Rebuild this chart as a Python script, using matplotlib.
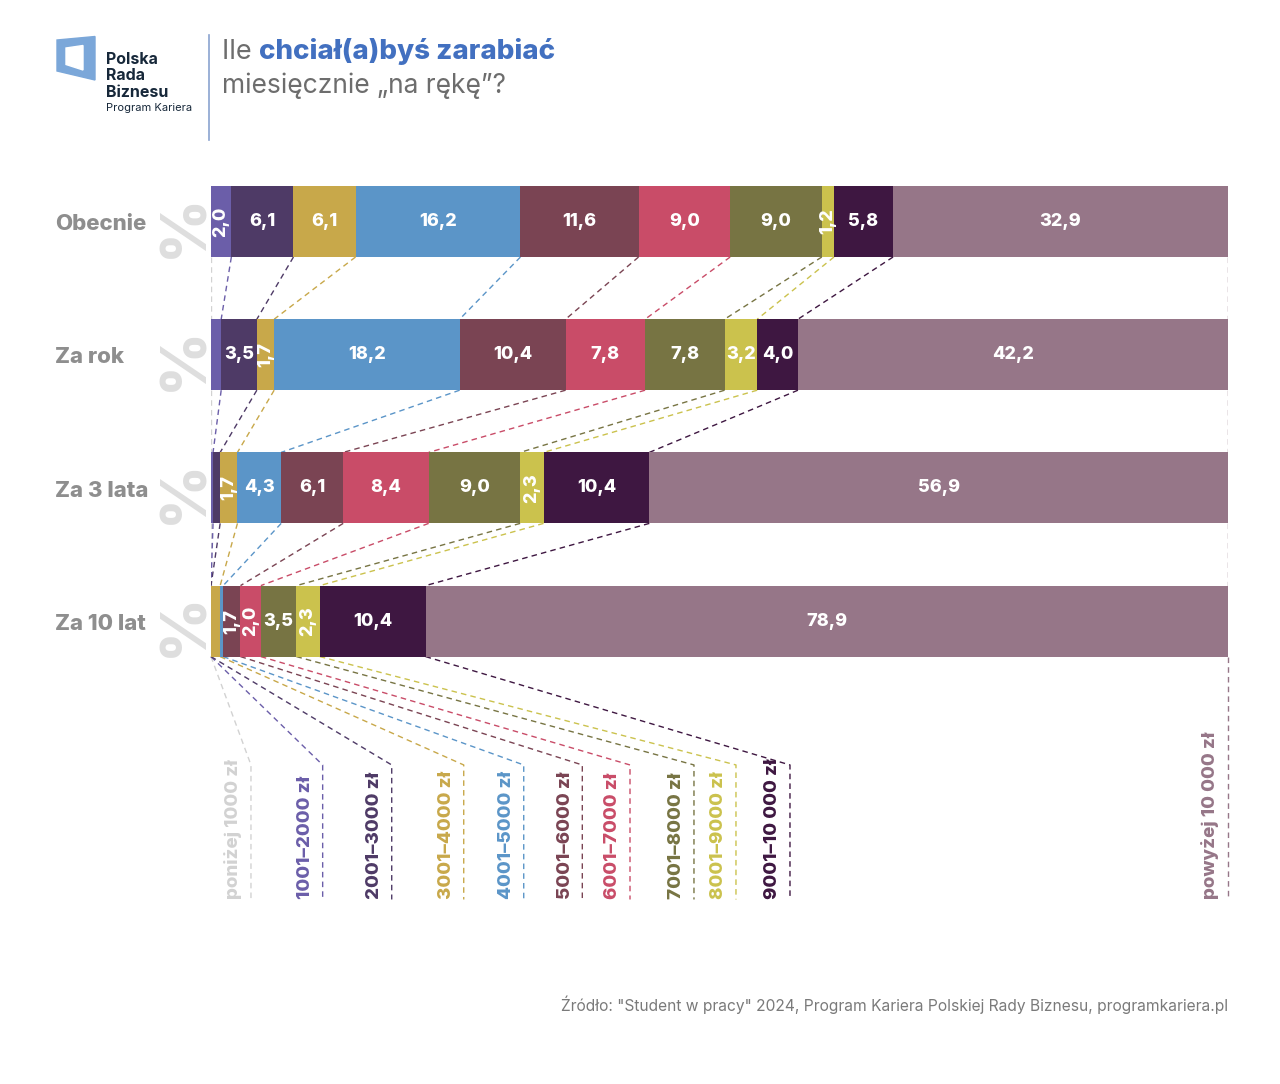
import matplotlib
matplotlib.use('Agg')
import matplotlib.pyplot as plt
from matplotlib.patches import Polygon
import numpy as np

plt.rcParams['font.family'] = ['Inter', 'DejaVu Sans']

# data (percent of answers)
periods = ['Obecnie', 'Za rok', 'Za 3 lata', 'Za 10 lat']
brackets = ['poniżej 1000 zł', '1001–2000 zł', '2001–3000 zł', '3001–4000 zł',
            '4001–5000 zł', '5001–6000 zł', '6001–7000 zł', '7001–8000 zł',
            '8001–9000 zł', '9001–10 000 zł', 'powyżej 10 000 zł']
now = [0, 2.0, 6.1, 6.1, 16.2, 11.6, 9.0, 9.0, 1.2, 5.8, 32.9]
in_1y = [0, 1.0, 3.5, 1.7, 18.2, 10.4, 7.8, 7.8, 3.2, 4.0, 42.2]
in_3y = [0, 0.2, 0.7, 1.7, 4.3, 6.1, 8.4, 9.0, 2.3, 10.4, 56.9]
in_10y = [0, 0, 0, 0.9, 0.3, 1.7, 2.0, 3.5, 2.3, 10.4, 78.9]
rows = [now, in_1y, in_3y, in_10y]

colors = ['#d2d2d2', '#6b5ea9', '#4e3a66', '#c8a84a', '#5b95c8', '#7a4453',
          '#c94c68', '#777443', '#cbc24d', '#3e1741', '#967688']

# where the bracket labels sit at the bottom (x in % of bar width)
label_x = [3.93, 10.98, 17.77, 24.85, 30.75, 36.51, 41.2, 47.49, 51.62, 56.93, 100]

W, H = 1280, 1084
fig = plt.figure(figsize=(W / 100, H / 100), dpi=100)


def fx(x):
    return x / W


def fy(y):
    return 1 - y / H


ax = fig.add_axes([fx(211), fy(920), (1228 - 211) / W, (920 - 150) / H])
ax.set_xlim(0, 100)
ax.set_ylim(5.244, -0.5368)
ax.axis('off')

bh = 0.533
dash = (0, (4, 3))

starts, ends = [], []
for r, vals in enumerate(rows):
    v = np.array(vals, dtype=float)
    share = v / v.sum() * 100
    left = np.concatenate([[0], np.cumsum(share)[:-1]])
    starts.append(left)
    ends.append(left + share)
    ax.barh(r, share, left=left, height=bh, color=colors, zorder=2)
    for k in range(len(v)):
        if v[k] < 1.1:
            continue
        txt = f'{v[k]:.1f}'.replace('.', ',')
        rot = 90 if v[k] < 2.5 else 0
        ax.text(left[k] + share[k] / 2, r, txt, color='white', fontsize=13,
                fontweight='heavy', ha='center', va='center', rotation=rot, zorder=4)
    ax.text(-15.34, r + 0.02, periods[r], color='#8e8e8e', fontsize=16, fontweight='heavy',
            ha='left', va='center', clip_on=False)
    ax.text(-2.51, r + 0.03, '%', color='#dedede', fontsize=45, fontweight='heavy',
            rotation=90, ha='center', va='center', clip_on=False)

# dashed connectors between the bars
for r in range(len(rows) - 1):
    for k in range(len(brackets)):
        ax.plot([ends[r][k], ends[r + 1][k]], [r + bh / 2, r + 1 - bh / 2],
                color=colors[k], lw=1, ls=dash, zorder=1)

# fan out to the bracket labels
y0 = len(rows) - 1 + bh / 2
y_knee, y_end = 4.08, 5.09
for k in range(len(brackets)):
    ax.plot([ends[-1][k], label_x[k], label_x[k]], [y0, y_knee, y_end],
            color=colors[k], lw=1, ls=dash, zorder=1, clip_on=False)
    ax.text(label_x[k] - 0.85, 5.086, brackets[k], color=colors[k], fontsize=13.5,
            fontweight='heavy', rotation=90, ha='right', va='bottom')

# logo
outer = Polygon([(fx(57), fy(40)), (fx(95), fy(36.5)), (fx(95), fy(80)), (fx(57), fy(71))],
                closed=True, color='#7ba7d9', transform=fig.transFigure)
inner = Polygon([(fx(66), fy(48)), (fx(83), fy(45.5)), (fx(83), fy(70)), (fx(66), fy(64.5))],
                closed=True, color='white', transform=fig.transFigure)
fig.add_artist(outer)
fig.add_artist(inner)
for i, word in enumerate(['Polska', 'Rada', 'Biznesu']):
    fig.text(fx(106), fy(64 + 16.5 * i), word, color='#17283a', fontsize=11.5,
             fontweight='bold', va='baseline')
fig.text(fx(106), fy(111), 'Program Kariera', color='#17283a', fontsize=8, va='baseline')
fig.add_artist(plt.Line2D([fx(209), fx(209)], [fy(35), fy(140)], color='#8aa3cf', lw=1.2,
                          transform=fig.transFigure))

# title
t1 = fig.text(fx(222), fy(59), 'Ile ', color='#6d6d6d', fontsize=19.5, va='baseline')
fig.canvas.draw()
bb = t1.get_window_extent()
fig.text(bb.x1 / W, fy(59), 'chciał(a)byś zarabiać', color='#4270c0', fontsize=20,
         fontweight='heavy', va='baseline')
fig.text(fx(222), fy(93), 'miesięcznie „na rękę”?', color='#6d6d6d', fontsize=19,
         va='baseline')

fig.text(fx(1228), fy(1011), 'Źródło: "Student w pracy" 2024, Program Kariera Polskiej Rady '
         'Biznesu, programkariera.pl', color='#7a7a7a', fontsize=11.2, ha='right',
         va='baseline')

fig.savefig('out.png', dpi=100, facecolor='white')
